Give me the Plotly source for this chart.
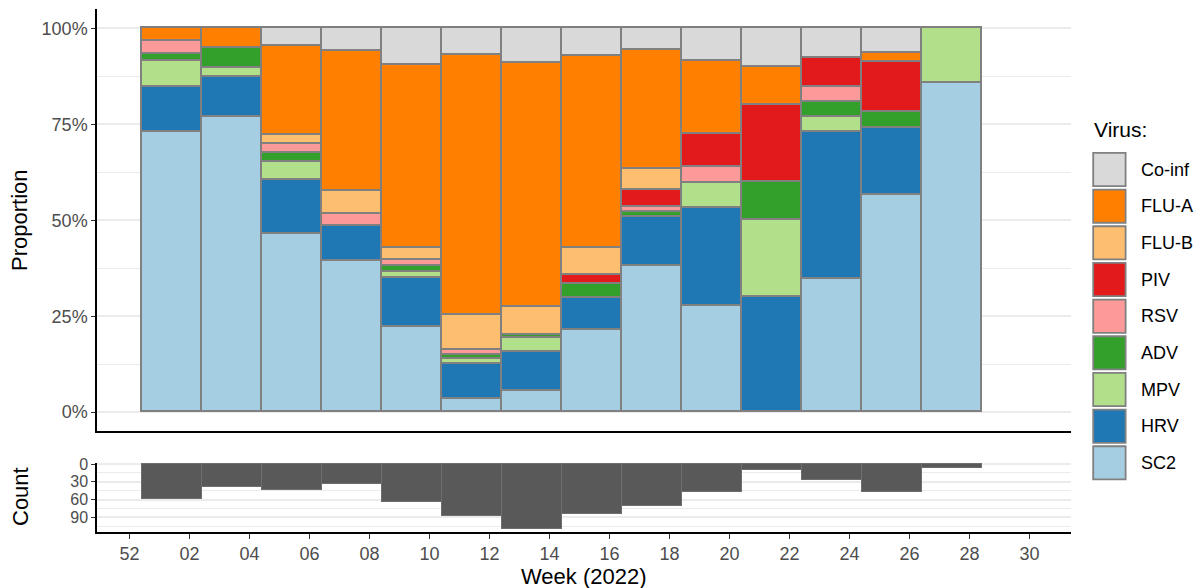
import pandas as pd
import plotly.graph_objects as go

# Two-week bins (start dates) and tick labels (ISO week numbers)
bin_start = ["2021-12-30", "2022-01-13", "2022-01-27", "2022-02-10", "2022-02-24",
             "2022-03-10", "2022-03-24", "2022-04-07", "2022-04-21", "2022-05-05",
             "2022-05-19", "2022-06-02", "2022-06-16", "2022-06-30"]
tick_dates = ["2021-12-27", "2022-01-10", "2022-01-24", "2022-02-07", "2022-02-21",
              "2022-03-07", "2022-03-21", "2022-04-04", "2022-04-18", "2022-05-02",
              "2022-05-16", "2022-05-30", "2022-06-13", "2022-06-27", "2022-07-11",
              "2022-07-25"]
tick_labels = ["52", "02", "04", "06", "08", "10", "12", "14", "16", "18",
               "20", "22", "24", "26", "28", "30"]
pct_ticks = [0, 25, 50, 75, 100]
count_ticks = [0, 30, 60, 90]

# Detections per virus in each bin (stacked bottom -> top)
sc2    = [43, 30, 20, 13, 14, 3, 6, 18, 27, 13, 0, 9, 26, 6]
hrv    = [7, 4, 6, 3, 8, 8, 11, 7, 9, 12, 3, 10, 8, 0]
mpv    = [4, 1, 2, 0, 1, 1, 4, 0, 0, 3, 2, 1, 0, 1]
adv    = [1, 2, 1, 0, 1, 1, 1, 3, 1, 0, 1, 1, 2, 0]
rsv    = [2, 0, 1, 1, 1, 1, 0, 0, 1, 2, 0, 1, 0, 0]
piv    = [0, 0, 0, 0, 0, 0, 0, 2, 3, 4, 2, 2, 6, 0]
flu_b  = [0, 0, 1, 2, 2, 8, 8, 6, 4, 0, 0, 0, 0, 0]
flu_a  = [2, 2, 10, 12, 30, 59, 69, 42, 22, 9, 1, 0, 1, 0]
co_inf = [0, 0, 2, 2, 6, 6, 10, 6, 4, 4, 1, 2, 3, 0]

virus_names = ["SC2", "HRV", "MPV", "ADV", "RSV", "PIV", "FLU-B", "FLU-A", "Co-inf"]
virus_counts = [sc2, hrv, mpv, adv, rsv, piv, flu_b, flu_a, co_inf]
virus_colors = ["#A6CEE3", "#1F78B4", "#B2DF8A", "#33A02C", "#FB9A99",
                "#E31A1C", "#FDBF6F", "#FF7F00", "#D9D9D9"]

totals = [sum(v[i] for v in virus_counts) for i in range(len(bin_start))]

# Geometry of the page
W, H = 1202, 588
ML, MR, MT, MB = 97, 131, 9, 56
PW, PH = W - ML - MR, H - MT - MB


def px2x(px):
    return (px - ML) / PW


def px2y(py):
    return (H - MB - py) / PH


DAY_MS = 86400000
starts = pd.to_datetime(bin_start)
centers = starts + pd.Timedelta(days=7)
bar_width = 14 * DAY_MS

t0 = pd.Timestamp(tick_dates[0])
x_range = [t0 - pd.Timedelta(days=7.58), t0 + pd.Timedelta(days=219.7)]

FONT = "Liberation Sans, Arial, sans-serif"
OUTLINE = "#808080"
GRID = "#EBEBEB"
TICKCOL = "#4D4D4D"

fig = go.Figure()

for name, counts, color in zip(virus_names, virus_counts, virus_colors):
    pct = [c / t * 100 if c > 0 else None for c, t in zip(counts, totals)]
    fig.add_trace(go.Bar(
        x=centers, y=pct, width=bar_width, name=name,
        marker=dict(color=color, line=dict(color=OUTLINE, width=1.6)),
        xaxis="x", yaxis="y", showlegend=False,
    ))

fig.add_trace(go.Bar(
    x=centers, y=totals, width=bar_width, name="Count",
    marker=dict(color="#595959", line=dict(color="#6E6E6E", width=1)),
    xaxis="x2", yaxis="y2", showlegend=False,
))

axis_common = dict(
    showline=True, linecolor="black", linewidth=1.5,
    zeroline=False, automargin=False,
)
tick_font = dict(family=FONT, size=18, color=TICKCOL)

fig.update_layout(
    width=W, height=H,
    margin=dict(l=ML, r=MR, t=MT, b=MB, autoexpand=False),
    paper_bgcolor="white", plot_bgcolor="white",
    barmode="stack", bargap=0,
    font=dict(family=FONT, color="black"),
    xaxis=dict(
        domain=[0, 1], anchor="y", type="date", range=x_range,
        showticklabels=False, ticks="", showgrid=False,
        **axis_common,
    ),
    yaxis=dict(
        domain=[px2y(431), 1], anchor="x", range=[-4.9, 105],
        tickmode="array", tickvals=pct_ticks,
        ticktext=[f"{v}%" for v in pct_ticks], tickfont=tick_font,
        ticks="outside", ticklen=4, tickwidth=1.3, tickcolor="#333333",
        showgrid=True, gridcolor=GRID, gridwidth=1.5,
        minor=dict(tickvals=[12.5, 37.5, 62.5, 87.5], showgrid=True,
                   gridcolor=GRID, gridwidth=1.2, ticks=""),
        **axis_common,
    ),
    xaxis2=dict(
        domain=[0, 1], anchor="y2", type="date", range=x_range, matches="x",
        tickmode="array", tickvals=pd.to_datetime(tick_dates), ticktext=tick_labels,
        tickfont=tick_font,
        ticks="outside", ticklen=5, tickwidth=1.3, tickcolor="#333333",
        showgrid=False,
        **axis_common,
    ),
    yaxis2=dict(
        domain=[0, px2y(462.7)], anchor="x2", range=[114.7, -2.2],
        tickmode="array", tickvals=count_ticks,
        ticktext=[str(v) for v in count_ticks],
        tickfont=dict(family=FONT, size=16, color=TICKCOL),
        ticks="outside", ticklen=4, tickwidth=1.3, tickcolor="#333333",
        showgrid=True, gridcolor=GRID, gridwidth=1.5,
        minor=dict(tickvals=[15, 45, 75, 105], showgrid=True,
                   gridcolor=GRID, gridwidth=1.2, ticks=""),
        **axis_common,
    ),
)

annotations = [
    dict(text="Proportion", x=px2x(20), y=px2y(220), textangle=-90),
    dict(text="Count", x=px2x(20), y=px2y(497), textangle=-90),
    dict(text="Week (2022)", x=0.5, y=px2y(576)),
]
for a in annotations:
    fig.add_annotation(xref="paper", yref="paper", showarrow=False,
                       xanchor="center", yanchor="middle",
                       font=dict(family=FONT, size=22, color="black"), **a)

# Legend drawn as boxes and labels, top entry = last stacked layer
fig.add_annotation(xref="paper", yref="paper", showarrow=False,
                   text="Virus:", x=px2x(1092), y=px2y(129),
                   xanchor="left", yanchor="middle",
                   font=dict(family=FONT, size=21, color="black"))
legend_order = list(zip(virus_names, virus_colors))[::-1]
for i, (name, color) in enumerate(legend_order):
    cy = 169.5 + 36.67 * i
    fig.add_shape(type="rect", xref="paper", yref="paper",
                  x0=px2x(1093.2), x1=px2x(1125.6),
                  y0=px2y(cy + 16.6), y1=px2y(cy - 16.6),
                  fillcolor=color, line=dict(color=OUTLINE, width=1.8))
    fig.add_annotation(xref="paper", yref="paper", showarrow=False,
                       text=name, x=px2x(1139), y=px2y(cy),
                       xanchor="left", yanchor="middle",
                       font=dict(family=FONT, size=18, color="black"))

fig.write_html("out.html")
